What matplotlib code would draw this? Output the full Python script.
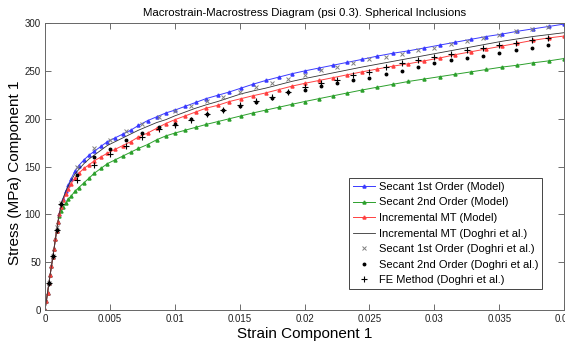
import matplotlib
matplotlib.use("Agg")
from matplotlib import pyplot as plt

# model curves (shared strain grid)
strain_model = [0, 0.0001, 0.0002, 0.0003, 0.0004, 0.0005, 0.0006, 0.0007, 0.0008, 0.0009,
                0.001, 0.0011, 0.00125, 0.0014, 0.0016, 0.0018, 0.002, 0.0023, 0.0026, 0.003,
                0.0034, 0.0038, 0.0043, 0.0048, 0.0054, 0.006, 0.0066, 0.0072, 0.0079, 0.0086,
                0.0093, 0.01, 0.0108, 0.0116, 0.0124, 0.0133, 0.0142, 0.0151, 0.016, 0.017,
                0.018, 0.019, 0.02, 0.0211, 0.0222, 0.0233, 0.0244, 0.0256, 0.0268, 0.028,
                0.0292, 0.0304, 0.0316, 0.0328, 0.034, 0.0352, 0.0364, 0.0376, 0.0388, 0.04]

elastic = [0, 9, 18, 28, 37, 46, 55, 64, 74, 83, 92]

secant1_model = elastic + [100, 108, 116, 124, 131, 137, 145, 151, 157, 162,
                           166, 171, 176, 180, 184, 188, 193, 198, 202, 206,
                           209, 213, 217, 221, 224.5, 228, 232, 236, 240, 243.5,
                           247, 250, 253, 256, 259, 262, 265.5, 268.5, 271, 274,
                           277, 280, 283, 286, 288.5, 291.5, 294, 296.5, 299]
secant2_model = elastic + [98, 104, 108, 112, 116, 119, 124, 128, 133, 138,
                           143, 148, 153, 157, 161, 165, 169, 173, 178, 182,
                           185, 188, 191, 194, 197, 200, 203, 206, 209, 212,
                           215, 218, 221, 224, 227, 230, 233, 236, 239, 241.5,
                           244, 246.5, 249, 251.5, 254, 256, 258.5, 260.5, 263]
incr_model = elastic + [100, 108, 115, 121, 127, 132, 138, 143, 148, 152,
                        156, 160, 164, 168, 172, 176, 181, 185, 190, 195,
                        199, 203, 207, 211, 214, 218, 221, 224, 227, 230.5,
                        234, 237, 240, 243, 246, 249, 252, 255, 257.5, 260.5,
                        263.5, 267, 270, 273, 276, 279, 282, 284.5, 286.5]
incr_doghri = elastic + [101, 109, 117, 124, 130, 135, 142, 147, 153, 158,
                         162, 167, 172, 176, 180, 184, 188, 192, 196, 199,
                         203, 207, 211, 214.5, 218, 222, 226, 229, 232, 235.5,
                         239, 242, 245, 248, 251, 254, 257, 260, 263, 266,
                         269, 272, 275, 278, 281, 283.5, 286, 288, 290]

# Doghri et al. reference points
strain_doghri = [0.0003, 0.0006, 0.0009, 0.00125, 0.0025, 0.00375, 0.005, 0.00625, 0.0075,
                 0.00875, 0.01, 0.01125, 0.0125, 0.01375, 0.015, 0.01625, 0.0175, 0.01875,
                 0.02, 0.02125, 0.0225, 0.02375, 0.025, 0.02625, 0.0275, 0.02875, 0.03,
                 0.03125, 0.0325, 0.03375, 0.035, 0.03625, 0.0375, 0.03875]
secant1_doghri = [28, 56, 87, 112, 150, 169, 178, 187, 195, 202, 208, 213, 219, 223,
                  228, 233, 237.5, 242, 246, 251, 254, 258, 262, 265, 268, 272, 274.5,
                  278.5, 281, 284.5, 288, 291.5, 293.5, 295.5]
secant2_doghri = [28, 56, 84, 111, 141, 160, 168, 178, 185, 191, 195, 200, 205, 209,
                  213, 218, 222, 228, 230, 234, 237, 241, 243, 247, 250, 254, 258,
                  261, 264, 266, 269, 272, 274, 277]
fe_doghri = [28, 56, 84, 111, 136, 152, 163, 172, 181, 189, 193, 199, 205, 209,
             214, 218.5, 223, 228, 233, 237.5, 241, 245.5, 249, 254, 258, 261, 265,
             268, 271.5, 273.5, 277.5, 279.5, 282, 284.5]

xticks = [0, 0.005, 0.01, 0.015, 0.02, 0.025, 0.03, 0.035, 0.04]
xticklabels = ["0", "0.005", "0.01", "0.015", "0.02", "0.025", "0.03", "0.035", "0.04"]
yticks = [0, 50, 100, 150, 200, 250, 300]

plt.rcParams["font.family"] = ["Liberation Sans", "DejaVu Sans"]

fig = plt.figure(figsize=(5.65, 3.44), dpi=100)
ax = fig.add_axes([0.0796, 0.0988, 0.919, 0.834])

ax.plot(strain_model, secant1_model, "-^", color="#3a3aff", lw=0.7, ms=2.2,
        label="Secant 1st Order (Model)")
ax.plot(strain_model, secant2_model, "-^", color="#2ca02c", lw=0.7, ms=2.2,
        label="Secant 2nd Order (Model)")
ax.plot(strain_model, incr_model, "-^", color="#ff4040", lw=0.7, ms=2.2,
        label="Incremental MT (Model)")
ax.plot(strain_model, incr_doghri, "-", color="#333333", lw=0.6,
        label="Incremental MT (Doghri et al.)")
ax.plot(strain_doghri, secant1_doghri, "x", color="#808080", ms=3.5, mew=0.7,
        label="Secant 1st Order (Doghri et al.)")
ax.plot(strain_doghri, secant2_doghri, "o", color="black", ms=1.8,
        label="Secant 2nd Order (Doghri et al.)")
ax.plot(strain_doghri, fe_doghri, "+", color="black", ms=5, mew=0.8,
        label="FE Method (Doghri et al.)")

ax.set_xlim(0, 0.04)
ax.set_ylim(0, 300)
ax.set_xticks(xticks)
ax.set_xticklabels(xticklabels)
ax.set_yticks(yticks)
ax.tick_params(direction="in", length=4, width=0.6, labelsize=7, colors="#555555",
               labelcolor="#222222", top=True, right=True, pad=3)
for s in ax.spines.values():
    s.set_color("#666666")
    s.set_linewidth(0.7)

ax.set_title("Macrostrain-Macrostress Diagram (psi 0.3). Spherical Inclusions",
             fontsize=8.2, pad=5)
ax.set_xlabel("Strain Component 1", fontsize=11)
ax.set_ylabel("Stress (MPa) Component 1", fontsize=11)
ax.yaxis.set_label_coords(-0.045, 0.48)
ax.xaxis.set_label_coords(0.5, -0.06)

leg = ax.legend(loc="lower right", bbox_to_anchor=(0.958, 0.073), fontsize=8,
                fancybox=False, framealpha=1, edgecolor="#444444", numpoints=1,
                handlelength=2.0, handletextpad=0.35, labelspacing=0.5,
                borderpad=0.35, borderaxespad=0)
leg.get_frame().set_linewidth(0.7)

fig.savefig("out.png", dpi=100)
